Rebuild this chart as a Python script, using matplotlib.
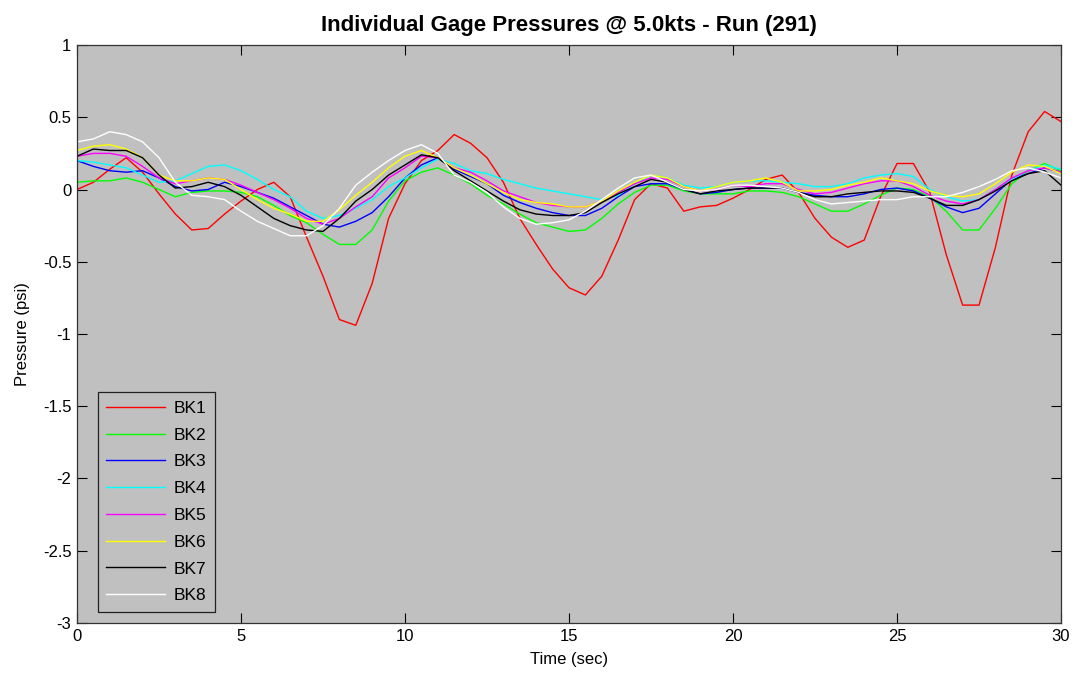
"""
plot.py - individual gage pressures vs time, run 291 (MATLAB-style figure).
"""
import numpy as np
import matplotlib
matplotlib.use("Agg")
import matplotlib.pyplot as plt

plt.rcParams["font.family"] = ["Liberation Sans", "DejaVu Sans"]

# time grid, seconds (values read every 0.5 s)
time_s = np.arange(0, 30.01, 0.5)

bk1 = [0.0, 0.05, 0.14, 0.22, 0.12, -0.03, -0.17, -0.28, -0.27, -0.17,
       -0.08, 0.0, 0.05, -0.05, -0.33, -0.6, -0.9, -0.94, -0.65, -0.2,
       0.04, 0.2, 0.27, 0.38, 0.32, 0.22, 0.05, -0.2, -0.38, -0.55,
       -0.68, -0.73, -0.6, -0.35, -0.07, 0.04, 0.01, -0.15, -0.12, -0.11,
       -0.06, 0.0, 0.07, 0.1, -0.02, -0.2, -0.33, -0.4, -0.35, -0.05,
       0.18, 0.18, -0.02, -0.45, -0.8, -0.8, -0.4, 0.1, 0.4, 0.54, 0.47]
bk2 = [0.05, 0.06, 0.06, 0.08, 0.05, 0.0, -0.05, -0.02, -0.01, -0.01,
       -0.02, -0.05, -0.11, -0.18, -0.23, -0.31, -0.38, -0.38, -0.28, -0.08,
       0.06, 0.12, 0.15, 0.1, 0.04, -0.04, -0.1, -0.17, -0.23, -0.26,
       -0.29, -0.28, -0.2, -0.1, -0.02, 0.03, 0.03, -0.01, -0.03, -0.03,
       -0.03, -0.01, -0.01, -0.02, -0.05, -0.1, -0.15, -0.15, -0.1, -0.04,
       0.01, 0.0, -0.05, -0.15, -0.28, -0.28, -0.13, 0.04, 0.13, 0.18, 0.13]
bk3 = [0.2, 0.16, 0.13, 0.12, 0.13, 0.08, 0.02, -0.01, 0.0, 0.05,
       0.02, -0.02, -0.06, -0.12, -0.18, -0.24, -0.26, -0.22, -0.16, -0.05,
       0.08, 0.17, 0.22, 0.14, 0.09, 0.04, -0.04, -0.09, -0.13, -0.16,
       -0.18, -0.18, -0.13, -0.05, 0.02, 0.04, 0.04, 0.0, -0.03, -0.02,
       0.0, 0.01, 0.01, 0.01, -0.02, -0.04, -0.05, -0.05, -0.03, 0.0,
       0.01, -0.01, -0.06, -0.12, -0.16, -0.13, -0.03, 0.07, 0.11, 0.15, 0.12]
bk4 = [0.2, 0.19, 0.17, 0.15, 0.1, 0.05, 0.06, 0.11, 0.16, 0.17,
       0.13, 0.07, 0.0, -0.05, -0.15, -0.2, -0.18, -0.13, -0.07, 0.02,
       0.08, 0.15, 0.21, 0.18, 0.13, 0.11, 0.07, 0.04, 0.01, -0.01,
       -0.03, -0.05, -0.07, -0.04, 0.04, 0.1, 0.08, 0.03, 0.01, 0.02,
       0.05, 0.06, 0.06, 0.05, 0.04, 0.02, 0.02, 0.04, 0.08, 0.1,
       0.11, 0.09, 0.0, -0.05, -0.08, -0.07, 0.0, 0.07, 0.13, 0.17, 0.14]
bk5 = [0.23, 0.25, 0.25, 0.23, 0.16, 0.08, 0.04, 0.06, 0.08, 0.07,
       0.03, -0.02, -0.07, -0.13, -0.2, -0.24, -0.2, -0.12, -0.05, 0.08,
       0.15, 0.23, 0.22, 0.15, 0.12, 0.06, -0.01, -0.05, -0.09, -0.11,
       -0.12, -0.12, -0.08, -0.02, 0.04, 0.08, 0.07, 0.02, -0.01, 0.0,
       0.03, 0.02, 0.04, 0.04, 0.0, -0.03, -0.02, 0.01, 0.04, 0.06,
       0.06, 0.02, -0.04, -0.08, -0.1, -0.07, 0.0, 0.08, 0.13, 0.15, 0.12]
bk6 = [0.27, 0.3, 0.31, 0.28, 0.22, 0.1, 0.06, 0.06, 0.08, 0.07,
       0.0, -0.07, -0.13, -0.17, -0.22, -0.22, -0.14, -0.04, 0.05, 0.15,
       0.23, 0.27, 0.22, 0.15, 0.1, 0.04, -0.02, -0.07, -0.09, -0.1,
       -0.12, -0.12, -0.08, -0.01, 0.05, 0.1, 0.08, 0.02, -0.01, 0.02,
       0.05, 0.06, 0.08, 0.05, -0.01, -0.01, 0.0, 0.03, 0.05, 0.08,
       0.06, 0.04, -0.01, -0.04, -0.05, -0.03, 0.04, 0.12, 0.17, 0.16, 0.11]
bk7 = [0.23, 0.28, 0.27, 0.27, 0.22, 0.1, 0.01, 0.02, 0.05, 0.02,
       -0.04, -0.12, -0.2, -0.25, -0.28, -0.29, -0.2, -0.08, 0.0, 0.1,
       0.17, 0.24, 0.22, 0.13, 0.06, -0.01, -0.08, -0.14, -0.17, -0.18,
       -0.18, -0.16, -0.09, -0.03, 0.02, 0.07, 0.05, 0.0, -0.03, -0.01,
       0.0, 0.01, 0.01, 0.01, -0.02, -0.05, -0.05, -0.03, -0.02, -0.01,
       -0.01, -0.02, -0.06, -0.11, -0.11, -0.07, -0.01, 0.06, 0.11, 0.13, 0.03]
bk8 = [0.33, 0.35, 0.4, 0.38, 0.33, 0.22, 0.05, -0.04, -0.05, -0.07,
       -0.15, -0.22, -0.27, -0.32, -0.32, -0.25, -0.13, 0.03, 0.12, 0.2,
       0.27, 0.31, 0.25, 0.1, 0.05, -0.02, -0.12, -0.2, -0.24, -0.23,
       -0.21, -0.15, -0.07, 0.01, 0.08, 0.1, 0.05, 0.0, -0.01, 0.0,
       0.03, 0.03, 0.02, 0.01, -0.02, -0.07, -0.1, -0.09, -0.08, -0.07,
       -0.07, -0.05, -0.05, -0.05, -0.02, 0.02, 0.07, 0.13, 0.15, 0.12, 0.08]

labels = ["BK1", "BK2", "BK3", "BK4", "BK5", "BK6", "BK7", "BK8"]
series = [bk1, bk2, bk3, bk4, bk5, bk6, bk7, bk8]
colors = ["#ff0000", "#00ff00", "#0000ff", "#00ffff",
          "#ff00ff", "#ffff00", "#000000", "#ffffff"]

fig = plt.figure(figsize=(10.75, 6.77), dpi=100, facecolor="white")
ax = fig.add_axes([0.0716, 0.0798, 0.9154, 0.8537])
ax.set_facecolor("#c0c0c0")

for y, c, lab in zip(series, colors, labels):
    ax.plot(time_s, y, color=c, lw=1.0, label=lab)

ax.set_xlim(0, 30)
ax.set_ylim(-3, 1)
ax.set_xticks(np.arange(0, 31, 5))
ax.set_yticks(np.arange(-3, 1.01, 0.5))
ax.set_yticklabels(["-3", "-2.5", "-2", "-1.5", "-1", "-0.5", "0", "0.5", "1"])
ax.tick_params(direction="in", length=7, width=0.8, top=True, right=True,
               labelsize=12, pad=4)
for s in ax.spines.values():
    s.set_linewidth(0.9)
    s.set_color("#333333")

ax.set_xlabel("Time (sec)", fontsize=12, labelpad=6)
ax.set_ylabel("Pressure (psi)", fontsize=12, labelpad=9)
ax.set_title("Individual Gage Pressures @ 5.0kts - Run (291)",
             fontsize=16, fontweight="bold", pad=10)

leg = ax.legend(loc="lower left", bbox_to_anchor=(0.021, 0.019), borderaxespad=0,
                fontsize=12.5, fancybox=False, framealpha=1, facecolor="#c0c0c0",
                edgecolor="#222222", handlelength=3.4, handletextpad=0.45,
                labelspacing=0.67, borderpad=0.5)
leg.get_frame().set_linewidth(0.9)

fig.savefig("out.png", dpi=100)
